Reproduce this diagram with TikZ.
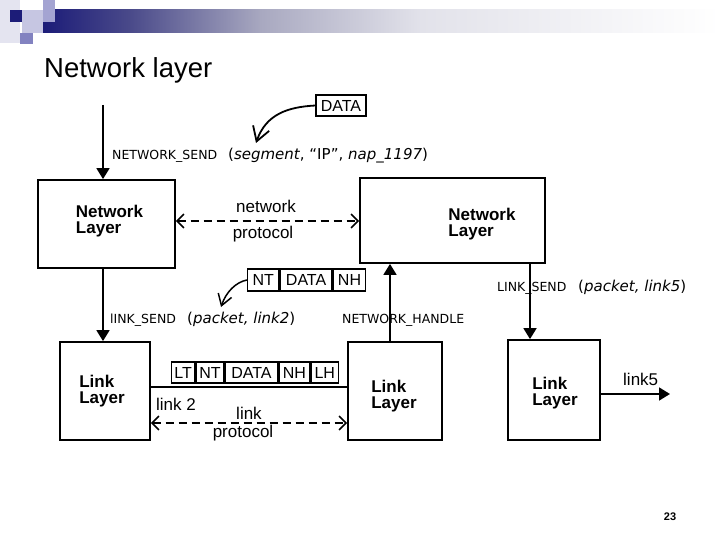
\documentclass[tikz,border=0pt]{standalone}
\usepackage{fontspec}
\setmainfont{Liberation Sans}
\newfontfamily\vfont{DejaVu Sans}
\usetikzlibrary{arrows.meta}
\definecolor{navyc}{HTML}{1C1C78}
\definecolor{gA}{HTML}{4A4A8A}
\definecolor{gB}{HTML}{A8A8C0}
\definecolor{gC}{HTML}{E2E2EA}
\definecolor{lavA}{HTML}{E4E4F0}
\definecolor{lavB}{HTML}{C6C6E2}
\definecolor{lavC}{HTML}{A4A4D2}
\definecolor{lavD}{HTML}{8282C0}
\tikzset{
  lay/.style={draw, line width=1.8pt, inner sep=0pt},
  laytxt/.style={font=\fontsize{17}{16}\selectfont\bfseries, align=left, inner sep=0pt},
  pkt/.style={draw, line width=1.4pt, inner sep=0pt, font=\fontsize{16}{16}\selectfont},
  lbl/.style={font=\fontsize{17}{17}\selectfont, inner sep=0pt},
  fn/.style={font=\vfont\fontsize{12.5}{12.5}\selectfont, inner sep=0pt, anchor=base west},
  arg/.style={font=\vfont\fontsize{15}{15}\selectfont, inner sep=0pt, anchor=base west},
  solidarr/.style={line width=1.8pt, -{Triangle[length=11pt,width=13pt]}},
  dasharr/.style={line width=1.5pt, dash pattern=on 8pt off 5pt,
     {Straight Barb[length=7pt,width=14pt]}-{Straight Barb[length=7pt,width=14pt]}},
  curvearr/.style={line width=1.8pt, -{Straight Barb[length=14pt,width=17pt]}},
  curvearrs/.style={line width=1.5pt, -{Straight Barb[length=11pt,width=14pt]}}
}
\begin{document}
\begin{tikzpicture}[x=1pt,y=-1pt]
\useasboundingbox (0,0) rectangle (720,540);
\fill[white] (0,0) rectangle (720,540);
% header decoration
\fill[lavA] (0,0) rectangle (20,43);
\shade[left color=navyc, right color=gA] (43,10) rectangle (130.5,33);
\shade[left color=gA, right color=gB] (130,10) rectangle (260.5,33);
\shade[left color=gB, right color=gC] (260,10) rectangle (420.5,33);
\shade[left color=gC, right color=white] (420,10) rectangle (720,33);
\fill[lavC] (43,0) rectangle (55,22);
\fill[lavB] (22,10) rectangle (43,33);
\fill[navyc] (10,10) rectangle (22,22);
\fill[lavD] (20,33) rectangle (33,44);

\node[anchor=base west, inner sep=0pt, font=\fontsize{27.5}{27.5}\selectfont] (title) at (44,78) {Network layer};

% boxes
\node[lay, minimum width=137pt, minimum height=88pt] (nl1) at (106.5,224) {};
\node[lay, minimum width=185pt, minimum height=85pt] (nl2) at (452.5,220.5) {};
\node[lay, minimum width=90pt, minimum height=98pt] (ll1) at (105,391) {};
\node[lay, minimum width=94pt, minimum height=98pt] (ll2) at (395,391) {};
\node[lay, minimum width=92pt, minimum height=100pt] (ll3) at (554,390) {};

\node[laytxt] (nl1t) at (109.5,221) {Network\\Layer};
\node[laytxt] (nl2t) at (482,224) {Network\\Layer};
\node[laytxt] (ll1t) at (102,391) {Link\\Layer};
\node[laytxt] (ll2t) at (394,396) {Link\\Layer};
\node[laytxt] (ll3t) at (555,393) {Link\\Layer};

% top send
\coordinate (src) at (103,105);
\draw[solidarr] (src) -- (src |- nl1.north);
\node[pkt, minimum width=50pt, minimum height=21pt] (data0) at (341,105.5) {DATA};
\coordinate (tip1) at (256,143);
\draw[curvearr] (data0.west) .. controls (288,107) and (266,114) .. (tip1);
\node[fn] (ns) at (112,160) {NETWORK\_SEND};
\node[arg] (nsarg) at (228,160) {(\textit{segment}, “IP”, \textit{nap\_1197})};

% network protocol
\coordinate (np) at (0,221);
\draw[dasharr] (nl1.east |- np) -- (nl2.west |- np);
\node[lbl, anchor=base] (netw) at (266,212) {network};
\node[lbl, anchor=base] (prot1) at (263,239) {protocol};

% NT DATA NH packet
\node[pkt, minimum width=31pt, minimum height=22pt, anchor=west] (nt1) at (247,280) {NT};
\node[pkt, minimum width=52pt, minimum height=22pt, anchor=west] (dt1) at (nt1.east) {DATA};
\node[pkt, minimum width=32pt, minimum height=22pt, anchor=west] (nh1) at (dt1.east) {NH};
\coordinate (tip2) at (221,307);
\draw[curvearrs] (nt1.west) .. controls (236,282) and (226,292) .. (tip2);

\node[fn] (ls1) at (110,323) {lINK\_SEND};
\node[arg] (ls1arg) at (187,323) {(\textit{packet, link2})};
\node[fn] (nh) at (342,323) {NETWORK\_HANDLE};
\node[fn] (ls5) at (497,291) {LINK\_SEND};
\node[arg] (ls5arg) at (578,291) {(\textit{packet, link5})};

% vertical arrows
\draw[solidarr] (nl1.south -| src) -- (ll1.north -| src);
\coordinate (upx) at (390,0);
\draw[solidarr] (ll2.north -| upx) -- (nl2.south -| upx);
\coordinate (dnx) at (530,0);
\draw[solidarr] (nl2.south -| dnx) -- (ll3.north -| dnx);

% link 2
\coordinate (yl) at (0,387);
\draw[line width=1.6pt] (ll1.east |- yl) -- (ll2.west |- yl);
\node[pkt, minimum width=23pt, minimum height=21pt, anchor=west] (lt2) at (171,372.5) {LT};
\node[pkt, minimum width=28pt, minimum height=21pt, anchor=west] (nt2) at (lt2.east) {NT};
\node[pkt, minimum width=52pt, minimum height=21pt, anchor=west] (dt2) at (nt2.east) {DATA};
\node[pkt, minimum width=31pt, minimum height=21pt, anchor=west] (nh2) at (dt2.east) {NH};
\node[pkt, minimum width=27pt, minimum height=21pt, anchor=west] (lh2) at (nh2.east) {LH};
\node[lbl, anchor=base west] (lk2) at (156,410) {link 2};

\coordinate (lp) at (0,423);
\draw[dasharr] (ll1.east |- lp) -- (ll2.west |- lp);
\node[lbl, anchor=base] (lnk) at (249,419) {link};
\node[lbl, anchor=base] (prot2) at (243,437) {protocol};

% link 5
\coordinate (l5) at (670,394);
\draw[solidarr] (ll3.east |- l5) -- (l5);
\node[lbl, anchor=base west] (lk5) at (623,385) {link5};

\node[inner sep=0pt, font=\bfseries\fontsize{11}{11}\selectfont] (pg) at (670,517) {23};
\end{tikzpicture}
\end{document}
